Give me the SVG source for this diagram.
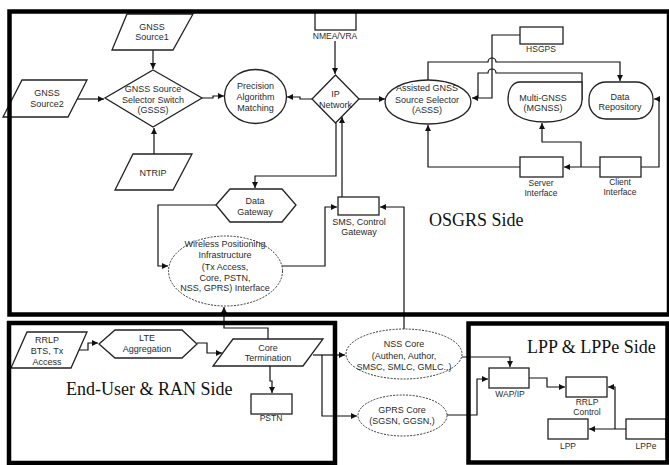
<svg xmlns="http://www.w3.org/2000/svg" width="669" height="465" viewBox="0 0 669 465">
<style>
.n{fill:#fff;stroke:#222;stroke-width:1.3}
.d{fill:#fff;stroke:#333;stroke-width:1;stroke-dasharray:2,1.3}
.t{font-family:"Liberation Sans",Arial,sans-serif;font-size:9px;fill:#2a2a2a;text-anchor:middle}
.s{font-size:8.5px}
.c{fill:none;stroke:#111;stroke-width:1.2;marker-end:url(#ah)}
.cn{fill:none;stroke:#111;stroke-width:1.2}
.f{fill:none;stroke:#000;stroke-width:4.5}
.big{font-family:"Liberation Serif","Times New Roman",serif;font-size:18px;fill:#111}
</style>
<defs>
<marker id="ah" markerWidth="6" markerHeight="6" refX="6" refY="3" orient="auto" markerUnits="userSpaceOnUse"><path d="M0,0 L6,3 L0,6 z" fill="#111"/></marker>
</defs>
<rect width="669" height="465" fill="#fff"/>

<g id="connectors">
<path class="c" d="M153,50 V69"/>
<path class="c" d="M77,99 H104"/>
<path class="c" d="M154,154 V128"/>
<path class="c" d="M202,98 H213 V96 H224"/>
<path class="c" d="M335,41 V74"/>
<path class="c" d="M312,99 H300 V97 H287"/>
<path class="c" d="M359,99 H385"/>
<path class="c" d="M336,123 V176 H255 V188"/>
<path class="c" d="M342,197 V117"/>
<path class="c" d="M216,205 H158 V266 H168"/>
<path class="c" d="M282,266 H325 V207 H337"/>
<path class="c" d="M404,329 V207 H380"/>
<path class="c" d="M268,339 V328 H224 V307"/>
<path class="c" d="M520,35 H492 V98 H472"/>
<path class="c" d="M428,80 V62 H488 A4,4 0 0 1 496,62 H620 V81"/>
<path class="cn" d="M582,100 V73 H496 A4,4 0 0 0 488,73 H478 V98"/>
<path class="c" d="M520,167 H428 V125"/>
<path class="c" d="M600,167 H564"/>
<path class="c" d="M581,167 V142 H542 V123"/>
<path class="c" d="M641,167 H659 V99 H654"/>
<path class="c" d="M77,350 H88 V343 H98"/>
<path class="c" d="M197,343 H207 V353 H222"/>
<path class="c" d="M270,366 V381 H272 V393"/>
<path class="c" d="M313,355 H345"/>
<path class="c" d="M322,355 V416 H357"/>
<path class="c" d="M462,357 H510 V367"/>
<path class="c" d="M447,415 H477 V379 H488"/>
<path class="c" d="M529,378 H547 V387 H565"/>
<path class="c" d="M626,429 H589"/>
<path class="c" d="M615,429 V387 H608"/>
</g>

<g id="gnss-source1"><polygon class="n" points="127,14 193,14 173,50 112,50"/><text class="t" x="152" y="29.5">GNSS</text><text class="t" x="152" y="39.5">Source1</text></g>
<g id="gnss-source2"><polygon class="n" points="22,80 87,80 68,117 3,117"/><text class="t" x="47" y="95.5">GNSS</text><text class="t" x="47" y="106.5">Source2</text></g>
<g id="gsss"><polygon class="n" points="153,70 202,98 153,127 105,98"/><text class="t" x="153" y="91.5">GNSS Source</text><text class="t" x="153" y="102.5">Selector Switch</text><text class="t" x="153" y="112.5">(GSSS)</text></g>
<g id="ntrip"><polygon class="n" points="133,154 192,154 173,190 115,190"/><text class="t" x="153" y="175.5">NTRIP</text></g>
<g id="precision"><ellipse class="n" cx="255.5" cy="96.5" rx="31" ry="27"/><text class="t" x="255.5" y="88.5">Precision</text><text class="t" x="255.5" y="100">Algorithm</text><text class="t" x="255.5" y="110.5">Matching</text></g>
<g id="nmea"><rect class="n" x="315" y="12" width="41" height="18"/><text class="t s" x="335" y="39">NMEA/VRA</text></g>
<g id="ip-network"><polygon class="n" points="335.5,75 359,99 335.5,123 312,99"/><text class="t" x="335.5" y="96.5">IP</text><text class="t" x="335.5" y="107.5">Network</text></g>
<g id="asss"><ellipse class="n" cx="428" cy="102" rx="43" ry="22"/><text class="t" x="427" y="90.5">Assisted GNSS</text><text class="t" x="427" y="102.5">Source Selector</text><text class="t" x="427" y="112.5">(ASSS)</text></g>
<g id="hsgps"><rect class="n" x="520" y="27" width="43" height="17"/><text class="t s" x="541" y="52">HSGPS</text></g>
<g id="mgnss"><path class="n" d="M520,82 H582 V100 C582,112 568,122 545,122 C520,122 508,112 508,100 C508,90 512,82 520,82 Z"/><text class="t" x="543" y="100.5">Multi-GNSS</text><text class="t" x="543" y="110.5">(MGNSS)</text></g>
<g id="data-repository"><rect class="n" x="589" y="82" width="64" height="37" rx="17"/><text class="t" x="620" y="99.5">Data</text><text class="t" x="620" y="109.5">Repository</text></g>
<g id="server-interface"><rect class="n" x="520" y="157" width="43" height="20"/><text class="t s" x="541" y="186">Server</text><text class="t s" x="541" y="196">Interface</text></g>
<g id="client-interface"><rect class="n" x="600" y="157" width="41" height="20"/><text class="t s" x="620" y="185">Client</text><text class="t s" x="620" y="195">Interface</text></g>
<g id="data-gateway"><polygon class="n" points="216,205 230,189 282,189 296,205 282,222 230,222"/><text class="t" x="255" y="203.5">Data</text><text class="t" x="255" y="214.5">Gateway</text></g>
<g id="wpi"><ellipse class="d" cx="225.5" cy="271" rx="57" ry="35"/><text class="t" x="225" y="246.5">Wireless Positioning</text><text class="t" x="225" y="257.5">Infrastructure</text><text class="t" x="225" y="269.5">(Tx Access,</text><text class="t" x="225" y="280.5">Core, PSTN,</text><text class="t" x="225" y="290.5">NSS, GPRS) Interface</text></g>
<g id="sms-gateway"><rect class="n" x="338" y="197" width="41" height="18"/><text class="t" x="359" y="225">SMS, Control</text><text class="t" x="359" y="235">Gateway</text></g>
<g id="rrlp-bts"><polygon class="n" points="27,332 87,332 71,368 11,368"/><text class="t" x="47" y="342.5">RRLP</text><text class="t" x="47" y="353.5">BTS, Tx</text><text class="t" x="47" y="364.5">Access</text></g>
<g id="lte"><polygon class="n" points="99,344 115,330 182,330 197,344 182,358 115,358"/><text class="t" x="147" y="340.5">LTE</text><text class="t" x="147" y="351.5">Aggregation</text></g>
<g id="core-termination"><polygon class="n" points="233,339 323,339 303,366 213,366"/><text class="t" x="268" y="350.5">Core</text><text class="t" x="268" y="360.5">Termination</text></g>
<g id="pstn"><rect class="n" x="251" y="394" width="41" height="20"/><text class="t s" x="271" y="421">PSTN</text></g>
<g id="nss-core"><ellipse class="d" cx="404" cy="354" rx="58" ry="25"/><text class="t" x="404" y="346.5">NSS Core</text><text class="t" x="404" y="358.5">(Authen, Author,</text><text class="t" x="404" y="369.5">SMSC, SMLC, GMLC..)</text></g>
<g id="gprs-core"><ellipse class="d" cx="402.5" cy="415.5" rx="44.5" ry="20.5"/><text class="t" x="402" y="412.5">GPRS Core</text><text class="t" x="402" y="423.5">(SGSN, GGSN,)</text></g>
<g id="wap-ip"><rect class="n" x="489" y="368" width="40" height="20"/><text class="t s" x="510" y="397">WAP/IP</text></g>
<g id="rrlp-control"><rect class="n" x="566" y="377" width="41" height="20"/><text class="t s" x="587" y="405">RRLP</text><text class="t s" x="587" y="415">Control</text></g>
<g id="lpp"><rect class="n" x="548" y="419" width="40" height="20"/><text class="t s" x="568" y="449">LPP</text></g>
<g id="lppe"><rect class="n" x="626" y="419" width="40" height="20"/><text class="t s" x="646" y="449">LPPe</text></g>

<g id="frames">
<rect class="f" x="9.5" y="11.5" width="659.5" height="303"/>
<rect class="f" x="9" y="323" width="326" height="140"/>
<rect class="f" x="468.5" y="323.5" width="199" height="139"/>
<text class="big" x="429" y="226">OSGRS Side</text>
<text class="big" x="66" y="395">End-User &amp; RAN Side</text>
<text class="big" x="527" y="353">LPP &amp; LPPe Side</text>
</g>
</svg>
